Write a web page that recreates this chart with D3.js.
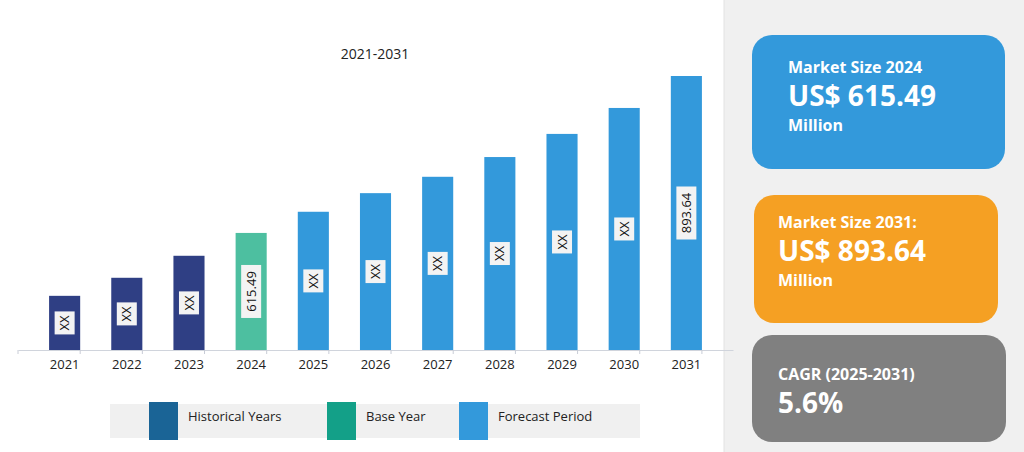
<!DOCTYPE html>
<html>
<head>
<meta charset="utf-8">
<script src="https://cdn.jsdelivr.net/npm/d3@7"></script>
<style>
  body { margin: 0; background: #fff; font-family: "Open Sans", "DejaVu Sans", sans-serif; }
</style>
</head>
<body>
<div id="chart"></div>
<script>
const years = ['2021', '2022', '2023', '2024', '2025', '2026', '2027', '2028', '2029', '2030', '2031'];
const values = [504, 536, 575, 615.49, 653, 686, 715, 750, 791, 837, 893.64];
const labels = ['XX', 'XX', 'XX', '615.49', 'XX', 'XX', 'XX', 'XX', 'XX', 'XX', '893.64'];
const periods = ['hist', 'hist', 'hist', 'base', 'fc', 'fc', 'fc', 'fc', 'fc', 'fc', 'fc'];
const legendNames = ['Historical Years', 'Base Year', 'Forecast Period'];

const barColor = { hist: '#2f3f84', base: '#4dbfa0', fc: '#3399db' };
const legendColor = ['#1a6496', '#13a088', '#3399db'];

const W = 1024, H = 452;
const svg = d3.select('#chart').append('svg').attr('width', W).attr('height', H);

// right summary panel
svg.append('rect').attr('x', 724).attr('y', 0).attr('width', 300).attr('height', H).attr('fill', '#f0f0f0');
svg.append('line').attr('x1', 724).attr('x2', 724).attr('y1', 0).attr('y2', H).attr('stroke', '#e2e2e2');

const x = d3.scaleBand().domain(years).range([18, 733]).padding(0.5);
const y = d3.scaleLinear().domain([408, 893.64]).range([350, 76]);

svg.append('text').attr('x', 375).attr('y', 59).attr('text-anchor', 'middle')
  .attr('font-size', 14).attr('fill', '#222').text('2021-2031');

// bars
svg.selectAll('rect.bar').data(years).enter().append('rect')
  .attr('x', d => x(d))
  .attr('y', (d, i) => y(values[i]))
  .attr('width', x.bandwidth())
  .attr('height', (d, i) => 350 - y(values[i]))
  .attr('fill', (d, i) => barColor[periods[i]]);

// x axis
const xAxis = svg.append('g').attr('transform', 'translate(0,350)')
  .call(d3.axisBottom(x).tickSize(0).tickPadding(10));
xAxis.select('.domain').attr('stroke', '#d0d4dc');
xAxis.selectAll('text').attr('font-size', 13).attr('fill', '#222').attr('font-family', '"Open Sans", sans-serif');
xAxis.selectAll('.sep').data(d3.range(years.length + 1)).enter().append('line')
  .attr('x1', i => 18 + i * x.step()).attr('x2', i => 18 + i * x.step())
  .attr('y1', 0).attr('y2', 4).attr('stroke', '#c8ccd6');

// value labels
const lab = svg.selectAll('g.lab').data(years).enter().append('g')
  .attr('transform', (d, i) => `translate(${x(d) + x.bandwidth() / 2},${(y(values[i]) + 350) / 2}) rotate(-90)`);
lab.append('rect')
  .attr('x', (d, i) => -(labels[i].length * 7.5 + 8) / 2)
  .attr('y', -10)
  .attr('width', (d, i) => labels[i].length * 7.5 + 8)
  .attr('height', 20)
  .attr('fill', '#f3f3f3');
lab.append('text').attr('text-anchor', 'middle').attr('dy', '0.35em')
  .attr('font-size', 13).attr('fill', '#111').text((d, i) => labels[i]);

// legend
svg.append('rect').attr('x', 110).attr('y', 404).attr('width', 530).attr('height', 34).attr('fill', '#f0f0f0');
const legX = [149, 327, 459];
legendNames.forEach((n, i) => {
  svg.append('rect').attr('x', legX[i]).attr('y', 402).attr('width', 29).attr('height', 38).attr('fill', legendColor[i]);
  svg.append('text').attr('x', legX[i] + 39).attr('y', 421).attr('font-size', 13).attr('fill', '#222').text(n);
});

// summary cards
const cards = [
  { x: 752, y: 35, w: 253, h: 134, c: '#3399db', lines: [['Market Size 2024', 16, 73], ['US$ 615.49', 28, 106], ['Million', 16, 131]], tx: 788 },
  { x: 754, y: 195, w: 244, h: 128, c: '#f5a023', lines: [['Market Size 2031:', 16, 228], ['US$ 893.64', 28, 261], ['Million', 16, 286]], tx: 778 },
  { x: 752, y: 335, w: 254, h: 107, c: '#808080', lines: [['CAGR (2025-2031)', 16, 380], ['5.6%', 28, 413]], tx: 778 }
];
cards.forEach(cd => {
  svg.append('rect').attr('x', cd.x).attr('y', cd.y).attr('width', cd.w).attr('height', cd.h)
    .attr('rx', 20).attr('fill', cd.c);
  cd.lines.forEach(l => {
    svg.append('text').attr('x', cd.tx).attr('y', l[2]).attr('font-size', l[1])
      .attr('font-weight', 'bold').attr('fill', '#fff').text(l[0]);
  });
});
</script>
</body>
</html>
